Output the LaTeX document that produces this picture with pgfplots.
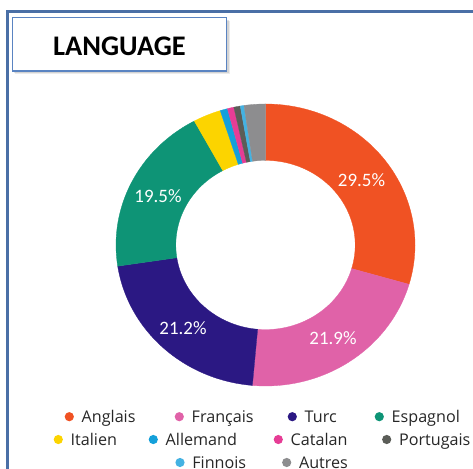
\documentclass[border=0pt]{standalone}
\usepackage{pgfplots}
\usepackage{pgfplotstable}
\pgfplotsset{compat=1.18}
\usepackage{fontspec}
\setmainfont{Open Sans}
\newfontfamily\carlito{Carlito}
\definecolor{cAng}{HTML}{F05223}
\definecolor{cFra}{HTML}{E062A8}
\definecolor{cTur}{HTML}{2B1883}
\definecolor{cEsp}{HTML}{0E9476}
\definecolor{cIta}{HTML}{FCD400}
\definecolor{cAll}{HTML}{14A0DA}
\definecolor{cCat}{HTML}{E63D95}
\definecolor{cPor}{HTML}{5B5D58}
\definecolor{cFin}{HTML}{44B2E2}
\definecolor{cAut}{HTML}{8D8D8F}
\definecolor{frameblue}{HTML}{4A6FA6}
\definecolor{boxblue}{HTML}{5A84C2}

\pgfplotstableread{
name value col
Anglais 29.5 cAng
Français 21.9 cFra
Turc 21.2 cTur
Espagnol 19.5 cEsp
Italien 3.0 cIta
Allemand 0.8 cAll
Catalan 0.7 cCat
Portugais 0.7 cPor
Finnois 0.4 cFin
Autres 2.3 cAut
}\langdata

\begin{document}
\begin{tikzpicture}
\begin{scope}[x=1bp,y=1bp]
\path[use as bounding box] (0,0) rectangle (473,465);
% outer frame
\draw[frameblue, line width=2.5bp] (7.7,-10) -- (7.7,453.7) -- (490,453.7);
% title box with shadow
\fill[black, opacity=0.08] (14.5,391) rectangle (229.5,444);
\fill[black, opacity=0.10] (13.5,392) rectangle (228.5,445);
\fill[white] (12.3,394) rectangle (226.7,447.3);
\draw[boxblue, line width=1.5bp] (12.3,394) rectangle (226.7,447.3);
\node[anchor=base, inner sep=0pt, font=\carlito\bfseries\fontsize{28.5}{30}\selectfont] at (119.5,409) {LANGUAGE};
\end{scope}

\begin{axis}[at={(265.5bp,220bp)}, anchor=center, scale only axis,
  width=299bp, height=282bp, hide axis,
  xmin=-1, xmax=1, ymin=-1, ymax=1, clip=false]
\pgfplotstablegetrowsof{\langdata}
\pgfmathtruncatemacro\nrows{\pgfplotsretval-1}
\gdef\cumul{0}
\pgfplotsforeachungrouped \i in {0,...,\nrows}{%
  \pgfplotstablegetelem{\i}{value}\of\langdata
  \let\val\pgfplotsretval
  \pgfplotstablegetelem{\i}{col}\of\langdata
  \let\colname\pgfplotsretval
  \pgfmathsetmacro\aStart{90-3.6*\cumul}%
  \pgfmathsetmacro\aEnd{90-3.6*(\cumul+\val)}%
  \pgfmathsetmacro\cumulnew{\cumul+\val}%
  \global\let\cumul\cumulnew
  \gdef\slicecoords{}%
  \foreach \k in {0,...,60}{%
    \pgfmathsetmacro\ang{\aStart+(\aEnd-\aStart)*\k/60}%
    \pgfmathsetmacro\px{cos(\ang)}\pgfmathsetmacro\py{sin(\ang)}%
    \xdef\slicecoords{\slicecoords (\px,\py)}%
  }%
  \foreach \k in {60,...,0}{%
    \pgfmathsetmacro\ang{\aStart+(\aEnd-\aStart)*\k/60}%
    \pgfmathsetmacro\px{0.6*cos(\ang)}\pgfmathsetmacro\py{0.6*sin(\ang)}%
    \xdef\slicecoords{\slicecoords (\px,\py)}%
  }%
  \edef\temp{\noexpand\addplot[fill=\colname, draw=\colname, line width=0.3pt, line join=round, mark=none, forget plot] coordinates {\slicecoords} -- cycle;}%
  \temp
}
\end{axis}

\begin{scope}[x=1bp,y=1bp]
% percentage labels
\tikzset{pl/.style={text=white, inner sep=0pt, font=\carlito\fontsize{19}{20}\selectfont}}
\node[pl] at (361.5,285) {29.5\%};
\node[pl] at (333,127) {21.9\%};
\node[pl] at (183,137) {21.2\%};
\node[pl] at (158,269) {19.5\%};
% legend
\tikzset{lt/.style={anchor=base west, inner sep=0pt, text=black!85, font=\fontsize{16.2}{18}\selectfont}}
\newcommand\legitem[4]{%
  \fill[#3] (#1,{465-#2}) circle (4.6);
  \node[lt] at ({#1+12.2},{465-#2-5.8}) {#4};}
\legitem{69.3}{416.7}{cAng}{Anglais}
\legitem{179.3}{416.7}{cFra}{Français}
\legitem{292.3}{416.7}{cTur}{Turc}
\legitem{379.3}{416.7}{cEsp}{Espagnol}
\legitem{58.3}{439.5}{cIta}{Italien}
\legitem{153.3}{439.5}{cAll}{Allemand}
\legitem{278.3}{439.5}{cCat}{Catalan}
\legitem{386.7}{439.5}{cPor}{Portugais}
\legitem{180}{462.5}{cFin}{Finnois}
\legitem{286.7}{462.5}{cAut}{Autres}
\end{scope}
\end{tikzpicture}
\end{document}
